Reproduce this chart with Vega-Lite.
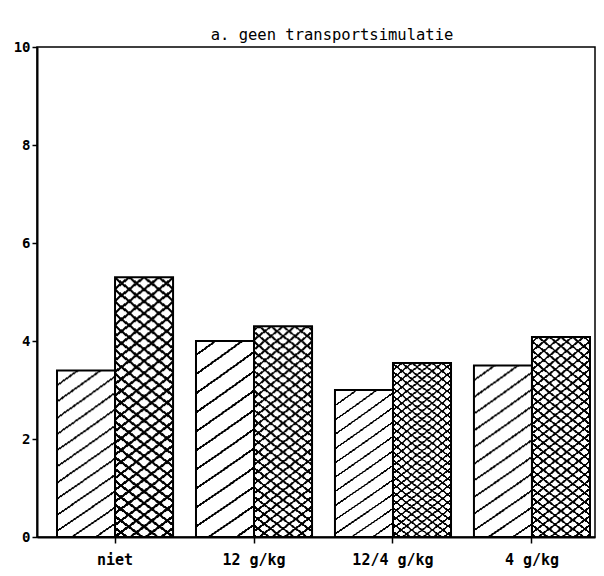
{
 "$schema": "https://vega.github.io/schema/vega-lite/v6.json",
 "width": 558,
 "height": 490,
 "autosize": "none",
 "padding": {"left": 37, "top": 47, "right": 9, "bottom": 39},
 "background": "white",
 "title": {"text": "a. geen transportsimulatie", "font": "DejaVu Sans Mono", "fontSize": 15.5, "fontWeight": "normal", "color": "black", "anchor": "middle", "offset": 3, "dx": 16, "dy": 18, "baseline": "alphabetic"},
 "data": {"values": [
  {"dose": "niet", "series": "A", "value": 3.4},
  {"dose": "niet", "series": "B", "value": 5.3},
  {"dose": "12 g/kg", "series": "A", "value": 4.0},
  {"dose": "12 g/kg", "series": "B", "value": 4.3},
  {"dose": "12/4 g/kg", "series": "A", "value": 3.0},
  {"dose": "12/4 g/kg", "series": "B", "value": 3.55},
  {"dose": "4 g/kg", "series": "A", "value": 3.5},
  {"dose": "4 g/kg", "series": "B", "value": 4.08}
 ]},
 "encoding": {
  "x": {"field": "dose", "type": "nominal", "sort": ["niet", "12 g/kg", "12/4 g/kg", "4 g/kg"],
   "scale": {"paddingInner": 0.165, "paddingOuter": 0.09, "align": 0.8},
   "axis": {"title": null, "labelAngle": 0, "grid": false, "domainColor": "black", "domainWidth": 2, "tickColor": "black", "tickWidth": 1.5, "tickSize": 6, "labelPadding": 9, "labelFont": "DejaVu Sans Mono", "labelFontSize": 15, "labelFontWeight": "bold", "labelColor": "black"}},
  "xOffset": {"field": "series", "type": "nominal", "scale": {"paddingInner": 0, "paddingOuter": 0}},
  "y": {"field": "value", "type": "quantitative", "scale": {"domain": [0, 10], "nice": false},
   "axis": {"title": null, "values": [0, 2, 4, 6, 8, 10], "grid": false, "domainColor": "black", "domainWidth": 2, "tickColor": "black", "tickWidth": 1.5, "tickSize": 5, "labelPadding": 2, "labelFont": "DejaVu Sans Mono", "labelFontSize": 14, "labelFontWeight": "bold", "labelColor": "black"}}
 },
 "layer": [
  {"mark": {"type": "bar", "fill": "white"}},
  {"transform": [{"filter": "datum.series === 'A'"}],
   "mark": {"type": "bar", "fill": {"gradient": "radial", "x1": -10.628, "y1": -15.392, "r1": 0, "x2": -10.628, "y2": -15.392, "r2": 20, "stops": [
    {"offset": 0.94, "color": "transparent"},
    {"offset": 0.94, "color": "#000"}, {"offset": 0.9405, "color": "#000"}, {"offset": 0.9405, "color": "transparent"}, {"offset": 0.944, "color": "transparent"},
    {"offset": 0.944, "color": "#000"}, {"offset": 0.9445, "color": "#000"}, {"offset": 0.9445, "color": "transparent"}, {"offset": 0.948, "color": "transparent"},
    {"offset": 0.948, "color": "#000"}, {"offset": 0.9485, "color": "#000"}, {"offset": 0.9485, "color": "transparent"}, {"offset": 0.952, "color": "transparent"},
    {"offset": 0.952, "color": "#000"}, {"offset": 0.9525, "color": "#000"}, {"offset": 0.9525, "color": "transparent"}, {"offset": 0.956, "color": "transparent"},
    {"offset": 0.956, "color": "#000"}, {"offset": 0.9565, "color": "#000"}, {"offset": 0.9565, "color": "transparent"}, {"offset": 0.96, "color": "transparent"},
    {"offset": 0.96, "color": "#000"}, {"offset": 0.9605, "color": "#000"}, {"offset": 0.9605, "color": "transparent"}, {"offset": 0.964, "color": "transparent"},
    {"offset": 0.964, "color": "#000"}, {"offset": 0.9645, "color": "#000"}, {"offset": 0.9645, "color": "transparent"}, {"offset": 0.968, "color": "transparent"},
    {"offset": 0.968, "color": "#000"}, {"offset": 0.9685, "color": "#000"}, {"offset": 0.9685, "color": "transparent"}, {"offset": 0.972, "color": "transparent"},
    {"offset": 0.972, "color": "#000"}, {"offset": 0.9725, "color": "#000"}, {"offset": 0.9725, "color": "transparent"}, {"offset": 0.976, "color": "transparent"},
    {"offset": 0.976, "color": "#000"}, {"offset": 0.9765, "color": "#000"}, {"offset": 0.9765, "color": "transparent"}, {"offset": 0.98, "color": "transparent"},
    {"offset": 0.98, "color": "#000"}, {"offset": 0.9805, "color": "#000"}, {"offset": 0.9805, "color": "transparent"}, {"offset": 0.984, "color": "transparent"},
    {"offset": 0.984, "color": "#000"}, {"offset": 0.9845, "color": "#000"}, {"offset": 0.9845, "color": "transparent"}, {"offset": 0.988, "color": "transparent"},
    {"offset": 0.988, "color": "#000"}, {"offset": 0.9885, "color": "#000"}, {"offset": 0.9885, "color": "transparent"}, {"offset": 0.992, "color": "transparent"},
    {"offset": 0.992, "color": "#000"}, {"offset": 0.9925, "color": "#000"}, {"offset": 0.9925, "color": "transparent"}, {"offset": 0.996, "color": "transparent"},
    {"offset": 0.996, "color": "#000"}, {"offset": 0.9965, "color": "#000"}, {"offset": 0.9965, "color": "transparent"}, {"offset": 1, "color": "transparent"}
   ]}}},
  {"transform": [{"filter": "datum.series === 'B'"}],
   "mark": {"type": "bar", "fill": {"gradient": "radial", "x1": -10.25, "y1": -13.258, "r1": 0, "x2": -10.25, "y2": -13.258, "r2": 18, "stops": [
    {"offset": 0.94, "color": "transparent"},
    {"offset": 0.94, "color": "#000"}, {"offset": 0.9405, "color": "#000"}, {"offset": 0.9405, "color": "transparent"}, {"offset": 0.942, "color": "transparent"},
    {"offset": 0.942, "color": "#000"}, {"offset": 0.9425, "color": "#000"}, {"offset": 0.9425, "color": "transparent"}, {"offset": 0.944, "color": "transparent"},
    {"offset": 0.944, "color": "#000"}, {"offset": 0.9445, "color": "#000"}, {"offset": 0.9445, "color": "transparent"}, {"offset": 0.946, "color": "transparent"},
    {"offset": 0.946, "color": "#000"}, {"offset": 0.9465, "color": "#000"}, {"offset": 0.9465, "color": "transparent"}, {"offset": 0.948, "color": "transparent"},
    {"offset": 0.948, "color": "#000"}, {"offset": 0.9485, "color": "#000"}, {"offset": 0.9485, "color": "transparent"}, {"offset": 0.95, "color": "transparent"},
    {"offset": 0.95, "color": "#000"}, {"offset": 0.9505, "color": "#000"}, {"offset": 0.9505, "color": "transparent"}, {"offset": 0.952, "color": "transparent"},
    {"offset": 0.952, "color": "#000"}, {"offset": 0.9525, "color": "#000"}, {"offset": 0.9525, "color": "transparent"}, {"offset": 0.954, "color": "transparent"},
    {"offset": 0.954, "color": "#000"}, {"offset": 0.9545, "color": "#000"}, {"offset": 0.9545, "color": "transparent"}, {"offset": 0.956, "color": "transparent"},
    {"offset": 0.956, "color": "#000"}, {"offset": 0.9565, "color": "#000"}, {"offset": 0.9565, "color": "transparent"}, {"offset": 0.958, "color": "transparent"},
    {"offset": 0.958, "color": "#000"}, {"offset": 0.9585, "color": "#000"}, {"offset": 0.9585, "color": "transparent"}, {"offset": 0.96, "color": "transparent"},
    {"offset": 0.96, "color": "#000"}, {"offset": 0.9605, "color": "#000"}, {"offset": 0.9605, "color": "transparent"}, {"offset": 0.962, "color": "transparent"},
    {"offset": 0.962, "color": "#000"}, {"offset": 0.9625, "color": "#000"}, {"offset": 0.9625, "color": "transparent"}, {"offset": 0.964, "color": "transparent"},
    {"offset": 0.964, "color": "#000"}, {"offset": 0.9645, "color": "#000"}, {"offset": 0.9645, "color": "transparent"}, {"offset": 0.966, "color": "transparent"},
    {"offset": 0.966, "color": "#000"}, {"offset": 0.9665, "color": "#000"}, {"offset": 0.9665, "color": "transparent"}, {"offset": 0.968, "color": "transparent"},
    {"offset": 0.968, "color": "#000"}, {"offset": 0.9685, "color": "#000"}, {"offset": 0.9685, "color": "transparent"}, {"offset": 0.97, "color": "transparent"},
    {"offset": 0.97, "color": "#000"}, {"offset": 0.9705, "color": "#000"}, {"offset": 0.9705, "color": "transparent"}, {"offset": 0.972, "color": "transparent"},
    {"offset": 0.972, "color": "#000"}, {"offset": 0.9725, "color": "#000"}, {"offset": 0.9725, "color": "transparent"}, {"offset": 0.974, "color": "transparent"},
    {"offset": 0.974, "color": "#000"}, {"offset": 0.9745, "color": "#000"}, {"offset": 0.9745, "color": "transparent"}, {"offset": 0.976, "color": "transparent"},
    {"offset": 0.976, "color": "#000"}, {"offset": 0.9765, "color": "#000"}, {"offset": 0.9765, "color": "transparent"}, {"offset": 0.978, "color": "transparent"},
    {"offset": 0.978, "color": "#000"}, {"offset": 0.9785, "color": "#000"}, {"offset": 0.9785, "color": "transparent"}, {"offset": 0.98, "color": "transparent"},
    {"offset": 0.98, "color": "#000"}, {"offset": 0.9805, "color": "#000"}, {"offset": 0.9805, "color": "transparent"}, {"offset": 0.982, "color": "transparent"},
    {"offset": 0.982, "color": "#000"}, {"offset": 0.9825, "color": "#000"}, {"offset": 0.9825, "color": "transparent"}, {"offset": 0.984, "color": "transparent"},
    {"offset": 0.984, "color": "#000"}, {"offset": 0.9845, "color": "#000"}, {"offset": 0.9845, "color": "transparent"}, {"offset": 0.986, "color": "transparent"},
    {"offset": 0.986, "color": "#000"}, {"offset": 0.9865, "color": "#000"}, {"offset": 0.9865, "color": "transparent"}, {"offset": 0.988, "color": "transparent"},
    {"offset": 0.988, "color": "#000"}, {"offset": 0.9885, "color": "#000"}, {"offset": 0.9885, "color": "transparent"}, {"offset": 0.99, "color": "transparent"},
    {"offset": 0.99, "color": "#000"}, {"offset": 0.9905, "color": "#000"}, {"offset": 0.9905, "color": "transparent"}, {"offset": 0.992, "color": "transparent"},
    {"offset": 0.992, "color": "#000"}, {"offset": 0.9925, "color": "#000"}, {"offset": 0.9925, "color": "transparent"}, {"offset": 0.994, "color": "transparent"},
    {"offset": 0.994, "color": "#000"}, {"offset": 0.9945, "color": "#000"}, {"offset": 0.9945, "color": "transparent"}, {"offset": 0.996, "color": "transparent"},
    {"offset": 0.996, "color": "#000"}, {"offset": 0.9965, "color": "#000"}, {"offset": 0.9965, "color": "transparent"}, {"offset": 0.998, "color": "transparent"},
    {"offset": 0.998, "color": "#000"}, {"offset": 0.9985, "color": "#000"}, {"offset": 0.9985, "color": "transparent"}, {"offset": 1, "color": "transparent"}
   ]}}},
  {"transform": [{"filter": "datum.series === 'B'"}],
   "mark": {"type": "bar", "fill": {"gradient": "radial", "x1": 11.25, "y1": -13.258, "r1": 0, "x2": 11.25, "y2": -13.258, "r2": 18, "stops": [
    {"offset": 0.94, "color": "transparent"},
    {"offset": 0.94, "color": "#000"}, {"offset": 0.9405, "color": "#000"}, {"offset": 0.9405, "color": "transparent"}, {"offset": 0.942, "color": "transparent"},
    {"offset": 0.942, "color": "#000"}, {"offset": 0.9425, "color": "#000"}, {"offset": 0.9425, "color": "transparent"}, {"offset": 0.944, "color": "transparent"},
    {"offset": 0.944, "color": "#000"}, {"offset": 0.9445, "color": "#000"}, {"offset": 0.9445, "color": "transparent"}, {"offset": 0.946, "color": "transparent"},
    {"offset": 0.946, "color": "#000"}, {"offset": 0.9465, "color": "#000"}, {"offset": 0.9465, "color": "transparent"}, {"offset": 0.948, "color": "transparent"},
    {"offset": 0.948, "color": "#000"}, {"offset": 0.9485, "color": "#000"}, {"offset": 0.9485, "color": "transparent"}, {"offset": 0.95, "color": "transparent"},
    {"offset": 0.95, "color": "#000"}, {"offset": 0.9505, "color": "#000"}, {"offset": 0.9505, "color": "transparent"}, {"offset": 0.952, "color": "transparent"},
    {"offset": 0.952, "color": "#000"}, {"offset": 0.9525, "color": "#000"}, {"offset": 0.9525, "color": "transparent"}, {"offset": 0.954, "color": "transparent"},
    {"offset": 0.954, "color": "#000"}, {"offset": 0.9545, "color": "#000"}, {"offset": 0.9545, "color": "transparent"}, {"offset": 0.956, "color": "transparent"},
    {"offset": 0.956, "color": "#000"}, {"offset": 0.9565, "color": "#000"}, {"offset": 0.9565, "color": "transparent"}, {"offset": 0.958, "color": "transparent"},
    {"offset": 0.958, "color": "#000"}, {"offset": 0.9585, "color": "#000"}, {"offset": 0.9585, "color": "transparent"}, {"offset": 0.96, "color": "transparent"},
    {"offset": 0.96, "color": "#000"}, {"offset": 0.9605, "color": "#000"}, {"offset": 0.9605, "color": "transparent"}, {"offset": 0.962, "color": "transparent"},
    {"offset": 0.962, "color": "#000"}, {"offset": 0.9625, "color": "#000"}, {"offset": 0.9625, "color": "transparent"}, {"offset": 0.964, "color": "transparent"},
    {"offset": 0.964, "color": "#000"}, {"offset": 0.9645, "color": "#000"}, {"offset": 0.9645, "color": "transparent"}, {"offset": 0.966, "color": "transparent"},
    {"offset": 0.966, "color": "#000"}, {"offset": 0.9665, "color": "#000"}, {"offset": 0.9665, "color": "transparent"}, {"offset": 0.968, "color": "transparent"},
    {"offset": 0.968, "color": "#000"}, {"offset": 0.9685, "color": "#000"}, {"offset": 0.9685, "color": "transparent"}, {"offset": 0.97, "color": "transparent"},
    {"offset": 0.97, "color": "#000"}, {"offset": 0.9705, "color": "#000"}, {"offset": 0.9705, "color": "transparent"}, {"offset": 0.972, "color": "transparent"},
    {"offset": 0.972, "color": "#000"}, {"offset": 0.9725, "color": "#000"}, {"offset": 0.9725, "color": "transparent"}, {"offset": 0.974, "color": "transparent"},
    {"offset": 0.974, "color": "#000"}, {"offset": 0.9745, "color": "#000"}, {"offset": 0.9745, "color": "transparent"}, {"offset": 0.976, "color": "transparent"},
    {"offset": 0.976, "color": "#000"}, {"offset": 0.9765, "color": "#000"}, {"offset": 0.9765, "color": "transparent"}, {"offset": 0.978, "color": "transparent"},
    {"offset": 0.978, "color": "#000"}, {"offset": 0.9785, "color": "#000"}, {"offset": 0.9785, "color": "transparent"}, {"offset": 0.98, "color": "transparent"},
    {"offset": 0.98, "color": "#000"}, {"offset": 0.9805, "color": "#000"}, {"offset": 0.9805, "color": "transparent"}, {"offset": 0.982, "color": "transparent"},
    {"offset": 0.982, "color": "#000"}, {"offset": 0.9825, "color": "#000"}, {"offset": 0.9825, "color": "transparent"}, {"offset": 0.984, "color": "transparent"},
    {"offset": 0.984, "color": "#000"}, {"offset": 0.9845, "color": "#000"}, {"offset": 0.9845, "color": "transparent"}, {"offset": 0.986, "color": "transparent"},
    {"offset": 0.986, "color": "#000"}, {"offset": 0.9865, "color": "#000"}, {"offset": 0.9865, "color": "transparent"}, {"offset": 0.988, "color": "transparent"},
    {"offset": 0.988, "color": "#000"}, {"offset": 0.9885, "color": "#000"}, {"offset": 0.9885, "color": "transparent"}, {"offset": 0.99, "color": "transparent"},
    {"offset": 0.99, "color": "#000"}, {"offset": 0.9905, "color": "#000"}, {"offset": 0.9905, "color": "transparent"}, {"offset": 0.992, "color": "transparent"},
    {"offset": 0.992, "color": "#000"}, {"offset": 0.9925, "color": "#000"}, {"offset": 0.9925, "color": "transparent"}, {"offset": 0.994, "color": "transparent"},
    {"offset": 0.994, "color": "#000"}, {"offset": 0.9945, "color": "#000"}, {"offset": 0.9945, "color": "transparent"}, {"offset": 0.996, "color": "transparent"},
    {"offset": 0.996, "color": "#000"}, {"offset": 0.9965, "color": "#000"}, {"offset": 0.9965, "color": "transparent"}, {"offset": 0.998, "color": "transparent"},
    {"offset": 0.998, "color": "#000"}, {"offset": 0.9985, "color": "#000"}, {"offset": 0.9985, "color": "transparent"}, {"offset": 1, "color": "transparent"}
   ]}}},
  {"mark": {"type": "bar", "fill": "white", "fillOpacity": 0, "stroke": "black", "strokeWidth": 2}}
 ],
 "config": {"view": {"stroke": "black", "strokeWidth": 1.5}}
}
